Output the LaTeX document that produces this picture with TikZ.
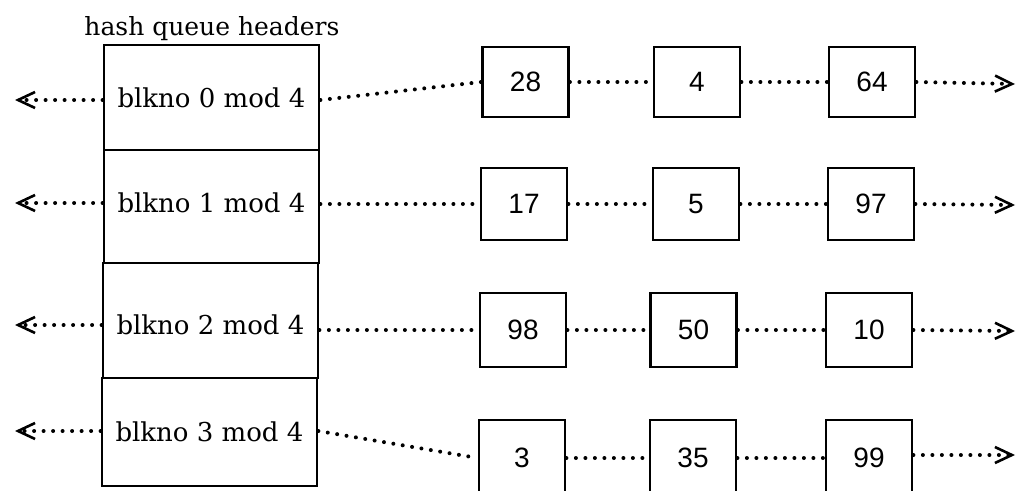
\documentclass[tikz,border=0pt]{standalone}
\usepackage{fontspec}
\setmainfont{DejaVu Serif}
\newfontfamily\numfont{Liberation Sans}
\usetikzlibrary{arrows.meta}
\tikzset{
  hdr/.style={draw, line width=2.8pt, minimum width=215pt, inner sep=0pt,
              font=\fontsize{26}{30}\selectfont},
  buf/.style={draw, line width=2.8pt, minimum width=86pt, inner sep=0pt,
              font=\numfont\fontsize{28}{32}\selectfont},
  dots/.style={line width=4pt, line cap=round, dash pattern=on 0pt off 9.5pt},
  ptr/.style={dots, -{Straight Barb[length=17pt,width=16pt,line width=2.6pt]}},
  title/.style={font=\fontsize{25}{29}\selectfont, inner sep=0pt}
}
\begin{document}
\begin{tikzpicture}[x=1pt,y=-1pt]
\useasboundingbox (0,0) rectangle (1020,490);
\fill[white] (0,0) rectangle (1020,490);

\node[title] (t) at (212,29) {hash queue headers};

% header column
\node[hdr, minimum height=105pt] (h0) at (211.5,97.5)  {blkno 0 mod 4};
\node[hdr, minimum height=113pt, text depth=8pt] (h1) at (211.5,206.5) {blkno 1 mod 4};
\node[hdr, minimum height=115pt, text height=28pt] (h2) at (210.5,320.5) {blkno 2 mod 4};
\node[hdr, minimum height=108pt] (h3) at (209.5,432)   {blkno 3 mod 4};

% buffers
\node[buf, minimum height=70pt] (b00) at (525.5,82) {28};
\node[buf, minimum height=70pt] (b01) at (697,82)   {4};
\node[buf, minimum height=70pt] (b02) at (872,82)   {64};

\node[buf, minimum height=72pt] (b10) at (524,204) {17};
\node[buf, minimum height=72pt] (b11) at (696,204) {5};
\node[buf, minimum height=72pt] (b12) at (871,204) {97};

\node[buf, minimum height=74pt] (b20) at (523,330)   {98};
\node[buf, minimum height=74pt] (b21) at (693.5,330) {50};
\node[buf, minimum height=74pt] (b22) at (869,330)   {10};

\node[buf, minimum height=76pt] (b30) at (522,458) {3};
\node[buf, minimum height=76pt] (b31) at (693,458) {35};
\node[buf, minimum height=76pt] (b32) at (869,458) {99};

% free ends
\coordinate (l0) at (15,100);
\coordinate (l1) at (15,203);
\coordinate (l2) at (15,325);
\coordinate (l3) at (15,431);
\coordinate (r0) at (1015,84);
\coordinate (r1) at (1015,205);
\coordinate (r2) at (1015,331);
\coordinate (r3) at (1015,455);

% backward pointers
\draw[ptr] (h0.west |- l0) -- (l0);
\draw[ptr] (h1.west |- l1) -- (l1);
\draw[ptr] (h2.west |- l2) -- (l2);
\draw[ptr] (h3.west |- l3) -- (l3);

% header to first buffer
\draw[dots] (h0.east |- l0) -- (b00.west);
\draw[dots] (h1.east |- b10.west) -- (b10.west);
\draw[dots] (h2.east |- b20.west) -- (b20.west);
\draw[dots] (h3.east |- l3) -- (b30.west);

% buffer chains
\draw[dots] (b00) -- (b01);
\draw[dots] (b01) -- (b02);
\draw[dots] (b10) -- (b11);
\draw[dots] (b11) -- (b12);
\draw[dots] (b20) -- (b21);
\draw[dots] (b21) -- (b22);
\draw[dots] (b30) -- (b31);
\draw[dots] (b31) -- (b32);

% forward pointers
\draw[ptr] (b02.east) -- (r0);
\draw[ptr] (b12.east) -- (r1);
\draw[ptr] (b22.east) -- (r2);
\draw[ptr] (b32.east |- r3) -- (r3);
\end{tikzpicture}
\end{document}
